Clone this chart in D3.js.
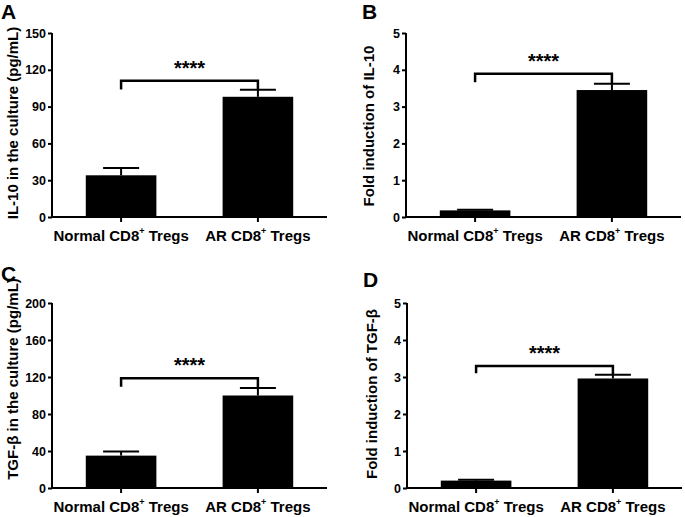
<!DOCTYPE html>
<html>
<head>
<meta charset="utf-8">
<script src="https://cdn.jsdelivr.net/npm/d3@7"></script>
<style>
  html, body { margin: 0; padding: 0; background: #fff; }
  svg { display: block; font-family: "Liberation Sans", Arial, sans-serif; font-weight: bold; }
</style>
</head>
<body>
<svg id="chart" width="685" height="517"></svg>
<script>
// ---- data ----
const categories = ["Normal CD8+ Tregs", "AR CD8+ Tregs"];

const il10Values = [34, 98];
const il10Sem = [6, 5.8];
const il10Ticks = [0, 30, 60, 90, 120, 150];

const il10FoldValues = [0.18, 3.45];
const il10FoldSem = [0.02, 0.17];
const il10FoldTicks = [0, 1, 2, 3, 4, 5];

const tgfValues = [35, 100];
const tgfSem = [4.5, 8];
const tgfTicks = [0, 40, 80, 120, 160, 200];

const tgfFoldValues = [0.2, 2.96];
const tgfFoldSem = [0.02, 0.1];
const tgfFoldTicks = [0, 1, 2, 3, 4, 5];

const panelLetters = ["A", "B", "C", "D"];
const yTitles = ["IL-10 in the culture (pg/mL)", "Fold induction of IL-10",
                 "TGF-β in the culture (pg/mL)", "Fold induction of TGF-β"];
const significance = ["****", "****", "****", "****"];
// bracket level and left leg end (data units)
const bracketTop = [111, 3.89, 118.6, 3.3];
const bracketLeftEnd = [104, 3.66, 109.5, 3.1];

// ---- layout ----
const panels = [
  { letter: panelLetters[0], values: il10Values, sem: il10Sem, ticks: il10Ticks, title: yTitles[0],
    x0: 52, x1: 327, yTop: 33, yBot: 217, titleX: 18, titleY: 123, lx: 1, ly: 19,
    br: bracketTop[0], brL: bracketLeftEnd[0], sig: significance[0] },
  { letter: panelLetters[1], values: il10FoldValues, sem: il10FoldSem, ticks: il10FoldTicks, title: yTitles[1],
    x0: 406, x1: 681, yTop: 33, yBot: 217, titleX: 374, titleY: 126, lx: 362, ly: 19,
    br: bracketTop[1], brL: bracketLeftEnd[1], sig: significance[1] },
  { letter: panelLetters[2], values: tgfValues, sem: tgfSem, ticks: tgfTicks, title: yTitles[2],
    x0: 52, x1: 327, yTop: 303, yBot: 488, titleX: 18, titleY: 379, lx: 1, ly: 281,
    br: bracketTop[2], brL: bracketLeftEnd[2], sig: significance[2] },
  { letter: panelLetters[3], values: tgfFoldValues, sem: tgfFoldSem, ticks: tgfFoldTicks, title: yTitles[3],
    x0: 407, x1: 682, yTop: 303, yBot: 488, titleX: 377, titleY: 394, lx: 363, ly: 287,
    br: bracketTop[3], brL: bracketLeftEnd[3], sig: significance[3] }
];

const svg = d3.select("#chart");
const FONT = "Liberation Sans, Arial, sans-serif";

panels.forEach(p => {
  const g = svg.append("g");
  const ticks = p.ticks;
  const y = d3.scaleLinear().domain([ticks[0], ticks[ticks.length - 1]]).range([p.yBot, p.yTop]);
  const x = d3.scaleBand().domain(categories).range([p.x0, p.x1])
    .paddingInner(0.484).paddingOuter(0.247);

  // bars
  g.selectAll("rect.bar").data(categories).enter().append("rect")
    .attr("x", d => x(d)).attr("width", x.bandwidth())
    .attr("y", (d, i) => y(p.values[i]))
    .attr("height", (d, i) => p.yBot - y(p.values[i]))
    .attr("fill", "#000");

  // error bars (upper only)
  const capW = 36;
  categories.forEach((c, i) => {
    const cx = x(c) + x.bandwidth() / 2;
    const top = y(p.values[i] + p.sem[i]);
    g.append("line").attr("x1", cx).attr("x2", cx).attr("y1", y(p.values[i])).attr("y2", top)
      .attr("stroke", "#000").attr("stroke-width", 2);
    g.append("line").attr("x1", cx - capW / 2).attr("x2", cx + capW / 2).attr("y1", top).attr("y2", top)
      .attr("stroke", "#000").attr("stroke-width", 2);
  });

  // y axis
  const yAxis = d3.axisLeft(y).tickValues(ticks).tickSize(4).tickPadding(2).tickFormat(d3.format("d"));
  const ya = g.append("g").attr("transform", `translate(${p.x0},0)`).call(yAxis);
  ya.select(".domain").attr("d", `M0,${p.yTop}V${p.yBot}`).attr("stroke-width", 2);
  ya.selectAll(".tick line").attr("stroke-width", 2);
  ya.selectAll(".tick text").attr("font-size", 12.5).attr("font-weight", "bold")
    .attr("font-family", FONT).attr("fill", "#000");

  // x axis
  const xAxis = d3.axisBottom(x).tickSize(5).tickPadding(6);
  const xa = g.append("g").attr("transform", `translate(0,${p.yBot})`).call(xAxis);
  xa.select(".domain").attr("d", `M${p.x0 - 1},0H${p.x1}`).attr("stroke-width", 2);
  xa.selectAll(".tick line").attr("stroke-width", 2);
  xa.selectAll(".tick text").each(function(d) {
    const t = d3.select(this);
    t.text(null).attr("font-size", 15).attr("font-weight", "bold")
      .attr("font-family", FONT).attr("fill", "#000")
      .attr("dy", "0.85em");
    const parts = d.split("+");
    t.append("tspan").text(parts[0]);
    t.append("tspan").text("+").attr("font-size", 9).attr("dy", "-0.75em");
    t.append("tspan").text(parts[1]).attr("dy", "0.45em");
  });

  // y title
  g.append("text")
    .attr("transform", `translate(${p.titleX},${p.titleY}) rotate(-90)`)
    .attr("text-anchor", "middle").attr("font-size", 15).attr("fill", "#000")
    .text(p.title);

  // panel letter
  g.append("text").attr("x", p.lx).attr("y", p.ly).attr("font-size", 21).attr("fill", "#000").text(p.letter);

  // significance bracket
  const cxL = x(categories[0]) + x.bandwidth() / 2;
  const cxR = x(categories[1]) + x.bandwidth() / 2;
  const yb = y(p.br);
  const yRightEnd = y(p.values[1] + p.sem[1]);
  g.append("path")
    .attr("d", `M${cxL},${y(p.brL)}V${yb}H${cxR}V${yRightEnd}`)
    .attr("fill", "none").attr("stroke", "#000").attr("stroke-width", 2.5);
  g.append("text").attr("x", (cxL + cxR) / 2).attr("y", yb - 6)
    .attr("text-anchor", "middle").attr("font-size", 20).attr("fill", "#000").text(p.sig);
});
</script>
</body>
</html>
